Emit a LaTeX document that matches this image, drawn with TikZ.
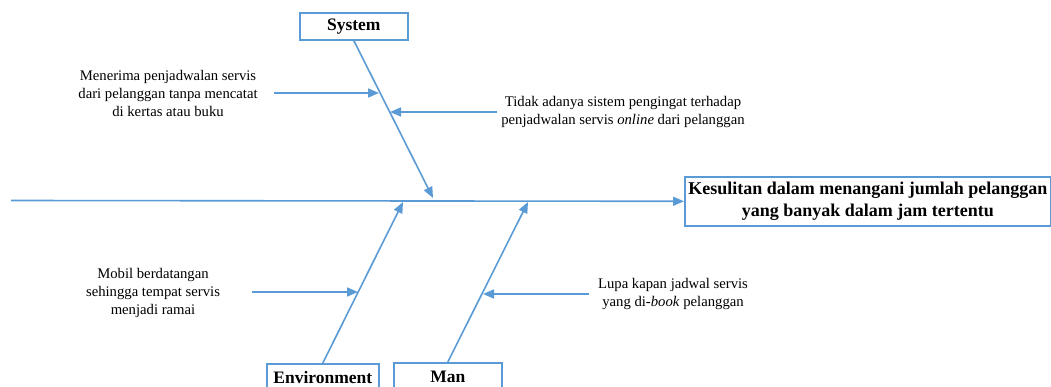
\documentclass[tikz,border=0pt]{standalone}
\usepackage{fontspec}
\setmainfont{Liberation Serif}
\usetikzlibrary{arrows.meta}
\definecolor{bone}{HTML}{5B9BD5}
\tikzset{
  bonestroke/.style={draw=bone, line width=1.6pt},
  tipped/.style={-{Triangle[length=11pt,width=9pt]}},
  catbox/.style={draw=bone, line width=1.6pt, fill=white,
    font=\fontsize{17.5}{22}\selectfont\bfseries, inner sep=0pt,
    anchor=north west, align=center},
  causetext/.style={align=center, font=\fontsize{14.7}{18}\selectfont, inner sep=0pt},
}
\begin{document}
\begin{tikzpicture}[x=1pt,y=-1pt]
  % page frame
  \clip (0,0) rectangle (1051,387);
  \fill[white] (0,0) rectangle (1051,387);

  % category boxes and the effect box
  \node[catbox, minimum width=108pt, minimum height=27pt] (system) at (299,12) {System};
  \node[catbox, minimum width=112pt, minimum height=28pt] (env) at (266,363) {Environment};
  \node[catbox, minimum width=108pt, minimum height=28pt] (man) at (393,362) {Man};
  \node[catbox, minimum width=366pt, minimum height=49pt,
        font=\fontsize{18}{22.5}\selectfont\bfseries] (effect) at (684,176)
    {Kesulitan dalam menangani jumlah pelanggan\\yang banyak dalam jam tertentu};

  % spine
  \coordinate (tail) at (11,200.5);
  \draw[bonestroke, tipped] (tail) -- (effect.west);

  % main bones
  \coordinate (sysTip) at (433,198);
  \coordinate (envTip) at (403,202);
  \coordinate (manTip) at (528,202);
  \draw[bonestroke, tipped] (system.south) -- (sysTip);
  \draw[bonestroke, tipped] (env.north) -- (envTip);
  \draw[bonestroke, tipped] (man.north) -- (manTip);

  % cause texts
  \node[causetext] (c1) at (168,93) {Menerima penjadwalan servis\\dari pelanggan tanpa mencatat\\di kertas atau buku};
  \node[causetext] (c2) at (623,112) {Tidak adanya sistem pengingat terhadap\\penjadwalan servis \textit{online} dari pelanggan};
  \node[causetext] (c3) at (153,293) {Mobil berdatangan\\sehingga tempat servis\\menjadi ramai};
  \node[causetext] (c4) at (673,294) {Lupa kapan jadwal servis\\yang di-\textit{book} pelanggan};

  % cause arrows onto the bones
  \coordinate (a1s) at (274,93);  \coordinate (a1e) at (379,93);
  \coordinate (a2s) at (497,112); \coordinate (a2e) at (390,112);
  \coordinate (a3s) at (252,292); \coordinate (a3e) at (358,292);
  \coordinate (a4s) at (589,294); \coordinate (a4e) at (483,294);
  \draw[bonestroke, tipped] (a1s) -- (a1e);
  \draw[bonestroke, tipped] (a2s) -- (a2e);
  \draw[bonestroke, tipped] (a3s) -- (a3e);
  \draw[bonestroke, tipped] (a4s) -- (a4e);
\end{tikzpicture}
\end{document}
